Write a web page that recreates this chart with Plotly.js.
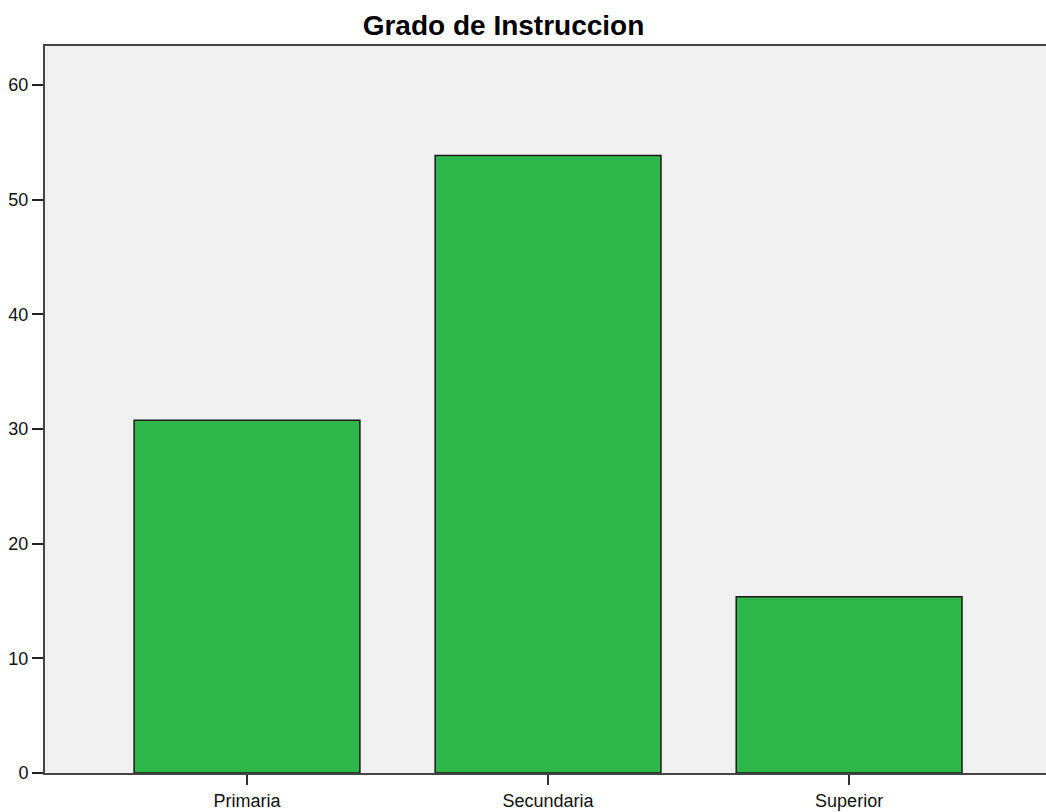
<!DOCTYPE html>
<html>
<head>
<meta charset="utf-8">
<script src="https://cdn.plot.ly/plotly-3.0.1.min.js"></script>
<style>html,body{margin:0;padding:0;background:#fff;}#chart{width:1046px;height:812px;}</style>
</head>
<body>
<div id="chart"></div>
<script>
const categories = ["Primaria", "Secundaria", "Superior"];
const percentages = [30.77, 53.85, 15.38];
const yTicks = [0, 10, 20, 30, 40, 50, 60];
const chartTitle = "Grado de Instruccion";

const trace = {
  type: "bar",
  x: categories,
  y: percentages,
  width: 0.75,
  marker: { color: "#2eb84b", line: { color: "#1a1a1a", width: 1.5 } },
  hoverinfo: "x+y"
};

const layout = {
  width: 1046,
  height: 812,
  margin: { l: 45, r: 0, t: 46, b: 39 },
  paper_bgcolor: "#ffffff",
  plot_bgcolor: "#f0f0f0",
  showlegend: false,
  title: {
    text: "<b>" + chartTitle + "</b>",
    font: { family: "Liberation Sans, Arial, sans-serif", size: 28, color: "#000" },
    x: 503.5 / 1046,
    xref: "container",
    xanchor: "center",
    y: 1 - 25 / 812,
    yref: "container",
    yanchor: "middle"
  },
  xaxis: {
    type: "category",
    range: [-0.671, 2.654],
    showgrid: false,
    zeroline: false,
    showline: true,
    linecolor: "#444",
    linewidth: 2,
    mirror: true,
    ticks: "outside",
    ticklen: 10,
    tickwidth: 2,
    tickcolor: "#333",
    ticklabelstandoff: 0,
    tickfont: { family: "Liberation Sans, Arial, sans-serif", size: 18, color: "#111" },
    fixedrange: true
  },
  yaxis: {
    range: [0, 63.4],
    tickvals: yTicks,
    showgrid: false,
    zeroline: false,
    showline: true,
    linecolor: "#444",
    linewidth: 2,
    ticks: "outside",
    ticklen: 11,
    tickwidth: 2,
    tickcolor: "#222",
    tickfont: { family: "Liberation Sans, Arial, sans-serif", size: 18, color: "#111" },
    fixedrange: true
  }
};

Plotly.newPlot("chart", [trace], layout, { displayModeBar: false, staticPlot: true });
</script>
</body>
</html>
